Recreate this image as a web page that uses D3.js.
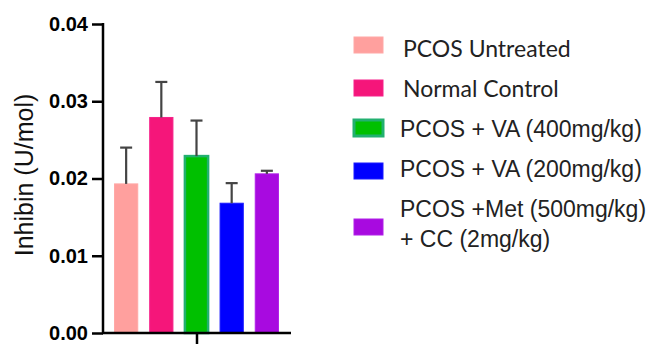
<!DOCTYPE html>
<html>
<head>
<meta charset="UTF-8">
<script src="https://cdn.jsdelivr.net/npm/d3@7"></script>
<style>
body { margin: 0; background: #fff; }
</style>
</head>
<body>
<div id="chart"></div>
<script>
// data
var groups = ["PCOS Untreated", "Normal Control", "PCOS + VA (400mg/kg)", "PCOS + VA (200mg/kg)", "PCOS +Met (500mg/kg)\n+ CC (2mg/kg)"];
var means = [0.0193, 0.0279, 0.0229, 0.0168, 0.0206];
var errs = [0.0047, 0.0046, 0.0046, 0.0026, 0.0004];
var yTicks = [0, 0.01, 0.02, 0.03, 0.04];
var fills = ["#ffa09e", "#f5167a", "#00c000", "#0000ff", "#a80ae0"];
var strokes = ["#ffa8a6", "#f5208a", "#22b070", "#1a1aff", "#b020e8"];

var W = 646, H = 344;
var svg = d3.select("#chart").append("svg")
	.attr("width", W).attr("height", H);

var y = d3.scaleLinear().domain([0, 0.04]).range([333, 24]);
var x = d3.scaleBand().domain(d3.range(groups.length))
	.range([107.5, 285.5]).paddingInner(0.34).paddingOuter(0.2);

// bars
svg.selectAll("rect.bar").data(means).enter().append("rect")
	.attr("class", "bar")
	.attr("x", function(d, i) { return x(i); })
	.attr("y", function(d) { return y(d); })
	.attr("width", x.bandwidth())
	.attr("height", function(d) { return y(0) - y(d); })
	.attr("fill", function(d, i) { return fills[i]; })
	.attr("stroke", function(d, i) { return strokes[i]; })
	.attr("stroke-width", function(d, i) { return i == 2 ? 2.5 : 1; });

// error bars (upper only)
var eb = svg.append("g").attr("stroke", "#444").attr("stroke-width", 2.2);
means.forEach(function(m, i) {
	var cx = x(i) + x.bandwidth() / 2;
	eb.append("line").attr("x1", cx).attr("x2", cx).attr("y1", y(m)).attr("y2", y(m + errs[i]));
	eb.append("line").attr("x1", cx - 6).attr("x2", cx + 6).attr("y1", y(m + errs[i])).attr("y2", y(m + errs[i]));
});

// y axis
var yAxis = d3.axisLeft(y).tickValues(yTicks).tickFormat(d3.format(".2f")).tickSize(11).tickPadding(4);
var gy = svg.append("g").attr("transform", "translate(103,0)").call(yAxis);
gy.select(".domain").remove();
gy.append("line").attr("x1", 0).attr("x2", 0).attr("y1", y(0.04) - 1).attr("y2", y(0) + 1)
	.attr("stroke", "#000").attr("stroke-width", 2.5);
gy.selectAll(".tick line").attr("stroke", "#000").attr("stroke-width", 2.5);
gy.selectAll(".tick text").attr("fill", "#000")
	.style("font-family", "Liberation Sans, Arial, sans-serif")
	.style("font-size", "20px").style("font-weight", "bold");

// x axis
svg.append("line").attr("x1", 102).attr("x2", 291).attr("y1", y(0)).attr("y2", y(0))
	.attr("stroke", "#000").attr("stroke-width", 2.5);
svg.append("line").attr("x1", 197).attr("x2", 197).attr("y1", y(0)).attr("y2", H)
	.attr("stroke", "#000").attr("stroke-width", 2.5);

// y title
svg.append("text")
	.attr("transform", "translate(33,175) rotate(-90)")
	.attr("text-anchor", "middle")
	.style("font-family", "Liberation Sans, Arial, sans-serif")
	.style("font-size", "25px").attr("fill", "#111")
	.text("Inhibin (U/mol)");

// legend
var legY = [37, 80, 120, 163, 219];
var baseY = [[57], [97], [137], [177], [217, 247]];
var leg = svg.append("g");
groups.forEach(function(g, i) {
	leg.append("rect").attr("x", 354).attr("y", legY[i]).attr("width", 29).attr("height", 16)
		.attr("fill", fills[i]).attr("stroke", strokes[i]).attr("stroke-width", i == 2 ? 3 : 1);
	var calibri = i < 2;
	var t = leg.append("text")
		.attr("fill", "#222")
		.style("font-family", calibri ? "Lato, sans-serif" : "Liberation Sans, Arial, sans-serif")
		.style("font-size", "23px");
	g.split("\n").forEach(function(line, k) {
		t.append("tspan").attr("x", calibri ? 403 : 400).attr("y", baseY[i][k]).text(line);
	});
});
</script>
</body>
</html>
